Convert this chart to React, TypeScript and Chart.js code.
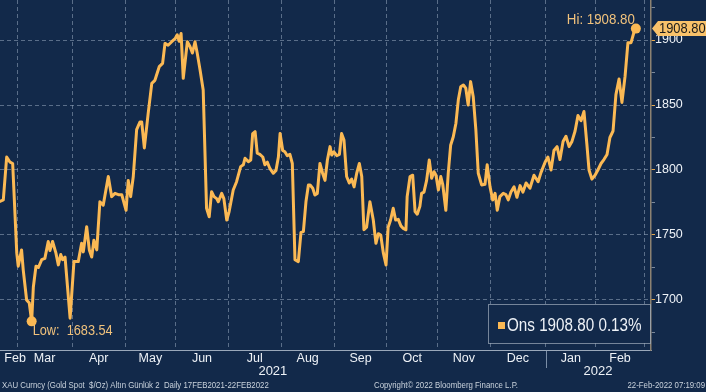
import React, { useEffect, useRef } from 'react';
import { Chart, registerables } from 'chart.js';

Chart.register(...registerables);

// Trading-day index since 17 Feb 2021 (weekdays) and gold spot price ($/oz)
const days = [
  0, 2.3, 3.7, 5.1, 6.2, 7.9, 8.5, 9.9, 10.6, 12.0, 13.1, 14.1, 14.8, 15.9, 16.9, 18.3, 19.6, 21.0, 21.7, 22.8,
  24.2, 25.2, 26.2, 27.0, 28.0, 30.1, 31.7, 33.5, 34.9, 35.6, 37.0, 38.1, 39.1, 40.0, 41.2, 42.5, 43.9, 46.0, 47.4, 48.8,
  50.2, 51.6, 53.4, 54.3, 55.3, 56.4, 57.8, 59.2, 59.9, 61.0, 62.6, 64.1, 65.4, 67.2, 68.6, 69.6, 70.9, 72.4, 73.8, 74.7,
  75.5, 76.3, 77.2, 78.9, 80.0, 81.0, 82.1, 83.0, 84.2, 85.5, 86.9, 88.0, 89.0, 90.0, 91.1, 91.8, 93.2, 94.1, 95.3, 96.3,
  98.0, 99.4, 101.1, 102.2, 102.9, 104.3, 105.3, 106.1, 107.1, 108.0, 109.1, 110.3, 111.2, 112.2, 113.3, 114.7, 115.8, 116.8, 117.5, 118.6,
  119.5, 120.5, 121.6, 122.6, 123.7, 125.1, 126.2, 127.2, 128.3, 129.3, 130.0, 131.1, 132.0, 133.0, 134.1, 135.2, 136.2, 137.2, 138.3, 139.0,
  139.9, 141.1, 142.2, 143.1, 144.1, 145.2, 146.3, 147.3, 148.3, 149.4, 150.5, 151.5, 152.4, 153.5, 154.9, 156.3, 157.4, 158.4, 159.4, 160.5,
  161.6, 162.5, 163.5, 164.6, 165.6, 166.7, 167.8, 168.8, 169.9, 170.4, 171.6, 172.7, 173.7, 174.6, 175.7, 176.4, 177.4, 178.5, 179.6, 180.6,
  181.6, 182.4, 183.4, 184.4, 185.2, 186.5, 187.5, 188.5, 189.6, 190.7, 191.7, 192.7, 193.8, 194.8, 195.8, 196.8, 197.9, 199.0, 200.0, 201.4,
  202.8, 203.7, 204.9, 206.0, 207.0, 207.9, 209.0, 210.4, 211.5, 212.5, 213.6, 214.9, 216.1, 217.4, 218.6, 219.9, 221.5, 223.2, 224.9, 226.1,
  227.8, 229.0, 230.3, 231.5, 232.8, 234.0, 235.3, 236.5, 237.8, 239.0, 240.3, 241.5, 242.8, 244.0, 245.2, 246.1, 247.3, 248.6, 249.8, 251.1,
  252.3, 253.6, 254.8, 256.1, 257.3, 258.6, 259.8, 261.1, 262.3, 263.6, 264.8, 265.6,
];

const prices = [
  1775, 1777, 1810, 1806, 1805, 1736, 1726, 1738.5, 1723, 1700, 1697.7, 1683.54, 1710, 1726, 1725, 1731, 1732, 1745, 1738, 1745,
  1736, 1727, 1735, 1731, 1733, 1686, 1729.5, 1729.5, 1743.6, 1737, 1756.4, 1738.5, 1733, 1746, 1738.5, 1775.6, 1773, 1795, 1779.5, 1782,
  1781, 1781, 1769, 1792, 1779.5, 1795, 1831, 1837, 1837, 1817, 1843.6, 1866.7, 1869, 1879.5, 1882, 1897.4, 1896, 1898.7, 1901, 1904,
  1899, 1905, 1870.5, 1898.7, 1895, 1890, 1898.7, 1890, 1877, 1861.5, 1770.5, 1764, 1783.3, 1779.5, 1778, 1775.6, 1782, 1778, 1761.5, 1768,
  1784.6, 1791, 1802.6, 1804, 1809, 1806.4, 1807.7, 1828, 1829.5, 1813, 1812, 1810, 1804, 1806, 1801, 1797.5, 1799.7, 1810, 1828, 1815,
  1814, 1811, 1812, 1805, 1731, 1729.5, 1752, 1752.6, 1776, 1788.5, 1788.5, 1786, 1780.8, 1782, 1805, 1797.5, 1792, 1807.7, 1818, 1811.5,
  1814, 1811, 1812, 1828, 1823, 1795, 1790, 1793, 1787, 1797.5, 1805, 1795, 1754, 1756, 1775.6, 1761.5, 1743.6, 1751, 1750, 1736,
  1727, 1756, 1761.5, 1770.5, 1761.5, 1762, 1757, 1755, 1754, 1779.5, 1795, 1796, 1768, 1766, 1772, 1782, 1783, 1792, 1807.7, 1793.6,
  1798.7, 1796, 1784.6, 1795, 1789, 1769, 1797.5, 1819, 1825.6, 1836, 1854, 1864, 1865.4, 1863, 1850, 1868, 1856.4, 1830.8, 1797.5, 1788.5,
  1789, 1804, 1787, 1777, 1782, 1769, 1779.5, 1782, 1781, 1777, 1783, 1787, 1779, 1788, 1783, 1790, 1786, 1796, 1791, 1798,
  1806, 1810, 1800, 1815, 1818, 1808, 1822, 1826, 1818, 1822, 1830, 1842, 1838, 1845, 1820, 1800, 1793, 1796, 1800, 1805,
  1808, 1812, 1825, 1830, 1858, 1870, 1852, 1872, 1898, 1898, 1906, 1908.8,
];

// Month boundaries (trading-day index of the 1st of each month) and label positions
const monthBoundaries = [8, 31, 53, 74, 96, 118, 140, 162, 183, 205, 228, 249, 269];
const monthLabelDays = [7.2, 19.5, 42, 63.5, 85, 107, 129, 151, 172.5, 194, 216.5, 238.5, 259];
const monthLabels = ['Feb', 'Mar', 'Apr', 'May', 'Jun', 'Jul', 'Aug', 'Sep', 'Oct', 'Nov', 'Dec', 'Jan', 'Feb'];
const yearLabelDays = [114.5, 249.8];
const yearLabels = ['2021', '2022'];
const yearDividerDay = 228;

const yTickValues = [1675, 1700, 1725, 1750, 1775, 1800, 1825, 1850, 1875, 1900, 1925];
const yLabelStep = 50;

const seriesName = 'Ons';
const changePct = 0.13;
const footerLeft = 'XAU Curncy (Gold Spot  $/Oz) Altın Günlük 2  Daily 17FEB2021-22FEB2022';
const footerCenter = 'Copyright© 2022 Bloomberg Finance L.P.';
const footerRight = '22-Feb-2022 07:19:09';

const BG = '#12294a';
const LINE = '#fbb954';
const GRID = 'rgba(150,168,190,0.55)';
const TEXT = '#eef2f7';
const LABEL = '#f1c27c';
const FONT = "'Liberation Sans', Arial, sans-serif";

function drawText(ctx: CanvasRenderingContext2D, text: string, x: number, y: number, align: CanvasTextAlign, size: number, sx: number, color: string) {
  ctx.save();
  ctx.font = `${size}px ${FONT}`;
  ctx.fillStyle = color;
  ctx.textAlign = align;
  ctx.textBaseline = 'middle';
  ctx.translate(x, y);
  ctx.scale(sx, 1);
  ctx.fillText(text, 0, 0);
  ctx.restore();
}

export default function App() {
  const ref = useRef<HTMLCanvasElement | null>(null);

  useEffect(() => {
    const canvas = ref.current;
    if (!canvas) return;
    const points = days.map((d, i) => ({ x: d, y: prices[i] }));
    let lowIdx = 0;
    let hiIdx = 0;
    prices.forEach((p, i) => {
      if (p < prices[lowIdx]) lowIdx = i;
      if (p >= prices[hiIdx]) hiIdx = i;
    });
    const lastIdx = prices.length - 1;

    const overlay = {
      id: 'overlay',
      beforeDraw(chart: any) {
        const ctx = chart.ctx;
        ctx.save();
        ctx.fillStyle = BG;
        ctx.fillRect(0, 0, chart.width, chart.height);
        ctx.restore();
      },
      afterDraw(chart: any) {
        const ctx = chart.ctx;
        const xs = chart.scales.x;
        const ys = chart.scales.y;
        const area = chart.chartArea;
        ctx.save();
        // year divider
        const dx = Math.round(xs.getPixelForValue(yearDividerDay)) + 0.5;
        ctx.strokeStyle = 'rgba(150,168,190,0.8)';
        ctx.lineWidth = 1;
        ctx.beginPath();
        ctx.moveTo(dx, area.bottom);
        ctx.lineTo(dx, area.bottom + 18);
        ctx.stroke();

        // Hi / Low labels
        const hx = xs.getPixelForValue(days[hiIdx]);
        const hy = ys.getPixelForValue(prices[hiIdx]);
        drawText(ctx, `Hi: ${prices[hiIdx].toFixed(2)}`, hx - 1, hy - 8, 'right', 14, 0.95, LABEL);
        const lx = xs.getPixelForValue(days[lowIdx]);
        const ly = ys.getPixelForValue(prices[lowIdx]);
        drawText(ctx, `Low:  ${prices[lowIdx].toFixed(2)}`, lx + 1, ly + 10, 'left', 14, 0.91, LABEL);

        // last value badge on the right axis
        const by = ys.getPixelForValue(prices[lastIdx]);
        const bx = area.right + 1;
        ctx.fillStyle = '#f9c26a';
        ctx.beginPath();
        ctx.moveTo(bx, by);
        ctx.lineTo(bx + 6, by - 7.5);
        ctx.lineTo(chart.width, by - 7.5);
        ctx.lineTo(chart.width, by + 7.5);
        ctx.lineTo(bx + 6, by + 7.5);
        ctx.closePath();
        ctx.fill();
        drawText(ctx, prices[lastIdx].toFixed(2), bx + 7, by + 0.5, 'left', 14, 0.92, '#1b1b1b');

        // legend box
        const lbx = 488, lby = 304, lbw = area.right - 1 - 488, lbh = 39;
        ctx.fillStyle = BG;
        ctx.fillRect(lbx, lby, lbw, lbh);
        ctx.strokeStyle = 'rgba(160,172,188,0.7)';
        ctx.lineWidth = 1;
        ctx.strokeRect(lbx + 0.5, lby + 0.5, lbw, lbh);
        ctx.fillStyle = LINE;
        ctx.fillRect(498, 322, 7, 7);
        drawText(ctx, `${seriesName} ${prices[lastIdx].toFixed(2)} ${changePct.toFixed(2)}%`, 507, 326, 'left', 17.5, 0.87, TEXT);

        // footer
        const fc = '#c9d2dc';
        drawText(ctx, footerLeft, 2, 386, 'left', 9, 0.87, fc);
        drawText(ctx, footerCenter, 446, 386, 'center', 9, 0.87, fc);
        drawText(ctx, footerRight, 705, 386, 'right', 9, 0.87, fc);
        ctx.restore();
      },
    };

    const chart = new Chart(canvas, {
      type: 'line',
      data: {
        datasets: [
          {
            data: points,
            borderColor: LINE,
            backgroundColor: LINE,
            borderWidth: 3,
            tension: 0,
            pointRadius: (c: any) => (c.dataIndex === lowIdx || c.dataIndex === lastIdx ? 5 : 0),
            pointBackgroundColor: LINE,
            pointBorderWidth: 0,
            borderJoinStyle: 'round',
          },
        ],
      },
      options: {
        animation: false,
        responsive: false,
        maintainAspectRatio: false,
        layout: { autoPadding: false, padding: { top: 0, left: 0, right: 0, bottom: 12 } },
        plugins: { legend: { display: false }, tooltip: { enabled: false } },
        scales: {
          x: {
            type: 'linear',
            min: 0.92,
            max: 271.9,
            position: 'bottom',
            afterBuildTicks: (s: any) => {
              s.ticks = [...monthBoundaries, ...monthLabelDays]
                .sort((a, b) => a - b)
                .map((v) => ({ value: v }));
            },
            afterFit: (s: any) => {
              s.height = 15;
              s.paddingLeft = 0;
              s.paddingRight = 0;
            },
            grid: {
              color: (c: any) => (c.tick && monthBoundaries.includes(c.tick.value) ? GRID : 'rgba(0,0,0,0)'),
              lineWidth: 1,
              drawTicks: false,
            },
            border: { display: true, color: 'rgba(170,182,198,0.9)', width: 1, dash: [4, 3] },
            ticks: {
              autoSkip: false,
              maxRotation: 0,
              padding: 2,
              color: TEXT,
              font: { family: FONT, size: 12.5, lineHeight: 1 },
              callback: (v: any) => {
                const i = monthLabelDays.indexOf(v);
                return i >= 0 ? monthLabels[i] : '';
              },
            },
          },
          x2: {
            type: 'linear',
            min: 0.92,
            max: 271.9,
            position: 'bottom',
            afterBuildTicks: (s: any) => {
              s.ticks = yearLabelDays.map((v) => ({ value: v }));
            },
            afterFit: (s: any) => {
              s.height = 15;
              s.paddingLeft = 0;
              s.paddingRight = 0;
            },
            grid: { display: false, drawTicks: false },
            border: { display: false },
            ticks: {
              autoSkip: false,
              maxRotation: 0,
              padding: 0,
              color: TEXT,
              font: { family: FONT, size: 13, lineHeight: 1 },
              callback: (v: any) => {
                const i = yearLabelDays.indexOf(v);
                return i >= 0 ? yearLabels[i] : '';
              },
            },
          },
          y: {
            type: 'linear',
            position: 'right',
            min: 1661.5,
            max: 1930.8,
            afterBuildTicks: (s: any) => {
              s.ticks = yTickValues.map((v) => ({ value: v }));
            },
            afterFit: (s: any) => {
              s.width = 55;
              s.paddingTop = 0;
              s.paddingBottom = 0;
            },
            grid: {
              color: (c: any) => (c.tick && c.tick.value % yLabelStep === 0 ? GRID : 'rgba(0,0,0,0)'),
              tickColor: (c: any) => (c.tick && c.tick.value % yLabelStep === 0 ? '#e6a94e' : 'rgba(150,160,175,0.8)'),
              tickLength: 4,
              lineWidth: 1,
            },
            border: { display: true, color: '#8c8272', width: 1.5, dash: [4, 3] },
            ticks: {
              autoSkip: false,
              padding: 0,
              color: TEXT,
              font: { family: FONT, size: 12.5 },
              callback: (v: any) => (v % yLabelStep === 0 ? String(v) : ''),
            },
          },
        },
      },
      plugins: [overlay],
    } as any);

    return () => chart.destroy();
  }, []);

  return (
    <div style={{ position: 'absolute', left: 0, top: 0, width: 706, height: 392, background: BG }}>
      <canvas ref={ref} width={706} height={392} style={{ display: 'block', width: 706, height: 392 }} />
    </div>
  );
}
